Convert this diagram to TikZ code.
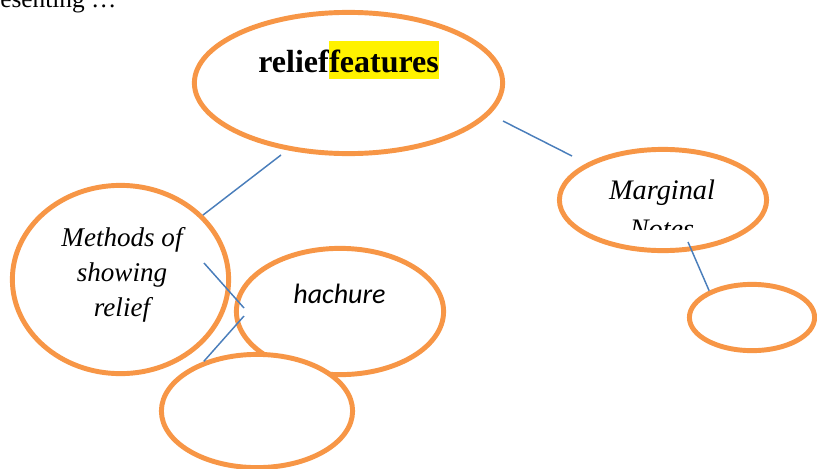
\documentclass[tikz,border=0pt]{standalone}
\usepackage{fontspec}
\setmainfont{Liberation Serif}
\newfontfamily\carlito{Carlito}
\usetikzlibrary{shapes.geometric}
\definecolor{bubbleorange}{HTML}{F79646}
\definecolor{linkblue}{HTML}{4A7EBB}

\begin{document}
\begin{tikzpicture}
    \tikzset{x={(0.75pt, 0pt)}, y={(0pt, -0.75pt)}}
    \tikzset{bubble/.style={ellipse, draw=bubbleorange, line width=3.7pt, fill=white, inner sep=0pt}}
    \tikzset{link/.style={draw=linkblue, line width=1.1pt}}
    \useasboundingbox (0, 0) rectangle (817, 468);
    \node[anchor=base west, inner sep=0pt, font=\fontsize{19}{23}\selectfont] (cut) at (0, 7) {esenting …};
    \node[bubble, minimum width=231.2pt, minimum height=105.9pt] (top) at (348.5, 83) {};
    \node[bubble, minimum width=162.2pt, minimum height=141.2pt] (methods) at (120.5, 279.5) {};
    \node[bubble, minimum width=155.4pt, minimum height=94.7pt] (hachure) at (340, 311.5) {};
    \node[bubble, minimum width=143.4pt, minimum height=84.9pt] (blank-b) at (257, 411) {};
    \node[bubble, minimum width=155.4pt, minimum height=75.9pt] (marginal) at (663, 200) {};
    \node[bubble, minimum width=93.9pt, minimum height=49.7pt] (blank-r) at (752, 317.5) {};
    \node[anchor=base west, inner sep=0pt, font=\bfseries\fontsize{24}{29}\selectfont] (relief) at (258, 72) {relief};
    \node[anchor=base west, inner xsep=0pt, inner ysep=0pt, fill=yellow, text height=23.25pt, text depth=5.25pt, font=\bfseries\fontsize{24}{29}\selectfont] (features) at (relief.base east) {features};
    \begin{scope}
        \clip (557, 140) rectangle (769, 229);
        \node[anchor=base, align=center, font=\itshape\fontsize{21.2}{29.6}\selectfont] (margtext) at (662, 238.5) {Marginal\\Notes};
    \end{scope}
    \node[anchor=base, align=center, font=\itshape\fontsize{20.3}{26.25}\selectfont] (methtext) at (122, 316) {Methods of\\showing\\relief};
    \node[anchor=base, font=\carlito\itshape\fontsize{21}{25}\selectfont] (hachtext) at (339.5, 303) {hachure};
    \coordinate (top-sw) at (281, 155);
    \coordinate (top-e) at (503, 121);
    \coordinate (marg-w) at (572, 156);
    \coordinate (marg-s) at (688, 242);
    \coordinate (meth-e) at (204, 263);
    \coordinate (hach-w) at (244, 308);
    \coordinate (hach-sw) at (244, 316);
    \draw[link] (top-sw) -- (methods.38);
    \draw[link] (top-e) -- (marg-w);
    \draw[link] (marg-s) -- (blank-r.148);
    \draw[link] (meth-e) -- (hach-w);
    \draw[link] (hach-sw) -- (blank-b.137);
\end{tikzpicture}
\end{document}
